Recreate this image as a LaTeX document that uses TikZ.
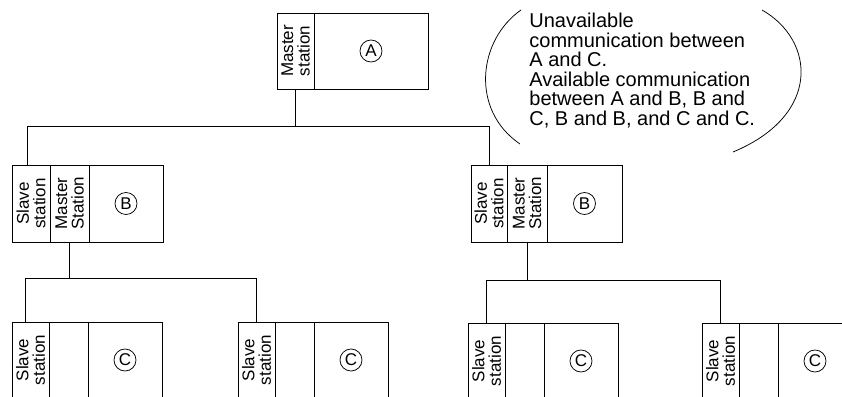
\documentclass[tikz,border=0pt]{standalone}
\usepackage{fontspec}
\setmainfont{Liberation Sans}
\usetikzlibrary{positioning}
\tikzset{every picture/.style={line width=0.75pt}}
\tikzset{
  cell/.style={draw, rectangle, inner sep=0pt, outer sep=0pt, minimum height=77pt},
  lbl/.style={rotate=90, align=center, inner sep=0pt, font=\fontsize{17}{16.5}\selectfont},
  idcircle/.style={draw, circle, inner sep=0pt, minimum size=22pt, font=\fontsize{17}{17}\selectfont},
  note/.style={align=left, inner sep=0pt, anchor=north west, font=\fontsize{20}{19.5}\selectfont},
}

\begin{document}
\begin{tikzpicture}[x=1pt, y=-1pt]
    \useasboundingbox (0,0) rectangle (842,396);
    \clip (0,0) rectangle (842,396);

    % 主站 A
    \node[cell, minimum width=37pt, minimum height=76pt, anchor=north west] (a1) at (277,13) {};
    \node[cell, minimum width=114pt, minimum height=76pt, right=0pt of a1] (a2) {};
    \node[lbl] (a1t) at (a1) {Master\\station};
    \node[idcircle] (a2c) at (a2) {A};

    % 左边的 B
    \node[cell, minimum width=38pt, anchor=north west] (b1) at (12,165) {};
    \node[cell, minimum width=39pt, right=0pt of b1] (b2) {};
    \node[cell, minimum width=74pt, right=0pt of b2] (b3) {};
    \node[lbl] (b1t) at (b1) {Slave\\station};
    \node[lbl] (b2t) at (b2) {Master\\Station};
    \node[idcircle] (b3c) at (b3) {B};

    % 右边的 B
    \node[cell, minimum width=36pt, anchor=north west] (d1) at (471,165) {};
    \node[cell, minimum width=40pt, right=0pt of d1] (d2) {};
    \node[cell, minimum width=75pt, right=0pt of d2] (d3) {};
    \node[lbl] (d1t) at (d1) {Slave\\station};
    \node[lbl] (d2t) at (d2) {Master\\Station};
    \node[idcircle] (d3c) at (d3) {B};

    % 子站 C（下边被截掉）
    \foreach \n/\x/\y in {c1/12/322, c2/238/322, c3/468/323, c4/702/323} {
        \node[cell, minimum width=37pt, minimum height=76pt, anchor=north west] (\n-l) at (\x,\y) {};
        \node[cell, minimum width=39pt, minimum height=76pt, right=0pt of \n-l] (\n-m) {};
        \node[cell, minimum width=74pt, minimum height=76pt, right=0pt of \n-m] (\n-r) {};
        \node[lbl] (\n-t) at (\n-l) {Slave\\station};
        \node[idcircle] (\n-c) at (\n-r) {C};
    }

    % 总线
    \coordinate (bus) at (0,126);
    \draw (a1.south) -- (a1.south |- bus);
    \draw ([xshift=-4pt]b1.north) |- (bus -| d1.north) -- (d1.north);

    \coordinate (busl) at (0,278);
    \draw (b2.south) -- (b2.south |- busl);
    \draw ([xshift=-5pt]c1-l.north) |- (busl -| c2-l.north) -- (c2-l.north);

    \coordinate (busr) at (0,280);
    \draw (d2.south) -- (d2.south |- busr);
    \draw (c3-l.north) |- (busr -| c4-l.north) -- (c4-l.north);

    % 说明
    \node[note] (txt) at (529,13) {Unavailable\\communication between\\A and C.\\Available communication\\between A and B, B and\\C, B and B, and C and C.};
    \draw (521,10) .. controls (478,40) and (470,110) .. (520,144);
    \draw (762,10) .. controls (815,40) and (822,115) .. (733,152);
\end{tikzpicture}
\end{document}
